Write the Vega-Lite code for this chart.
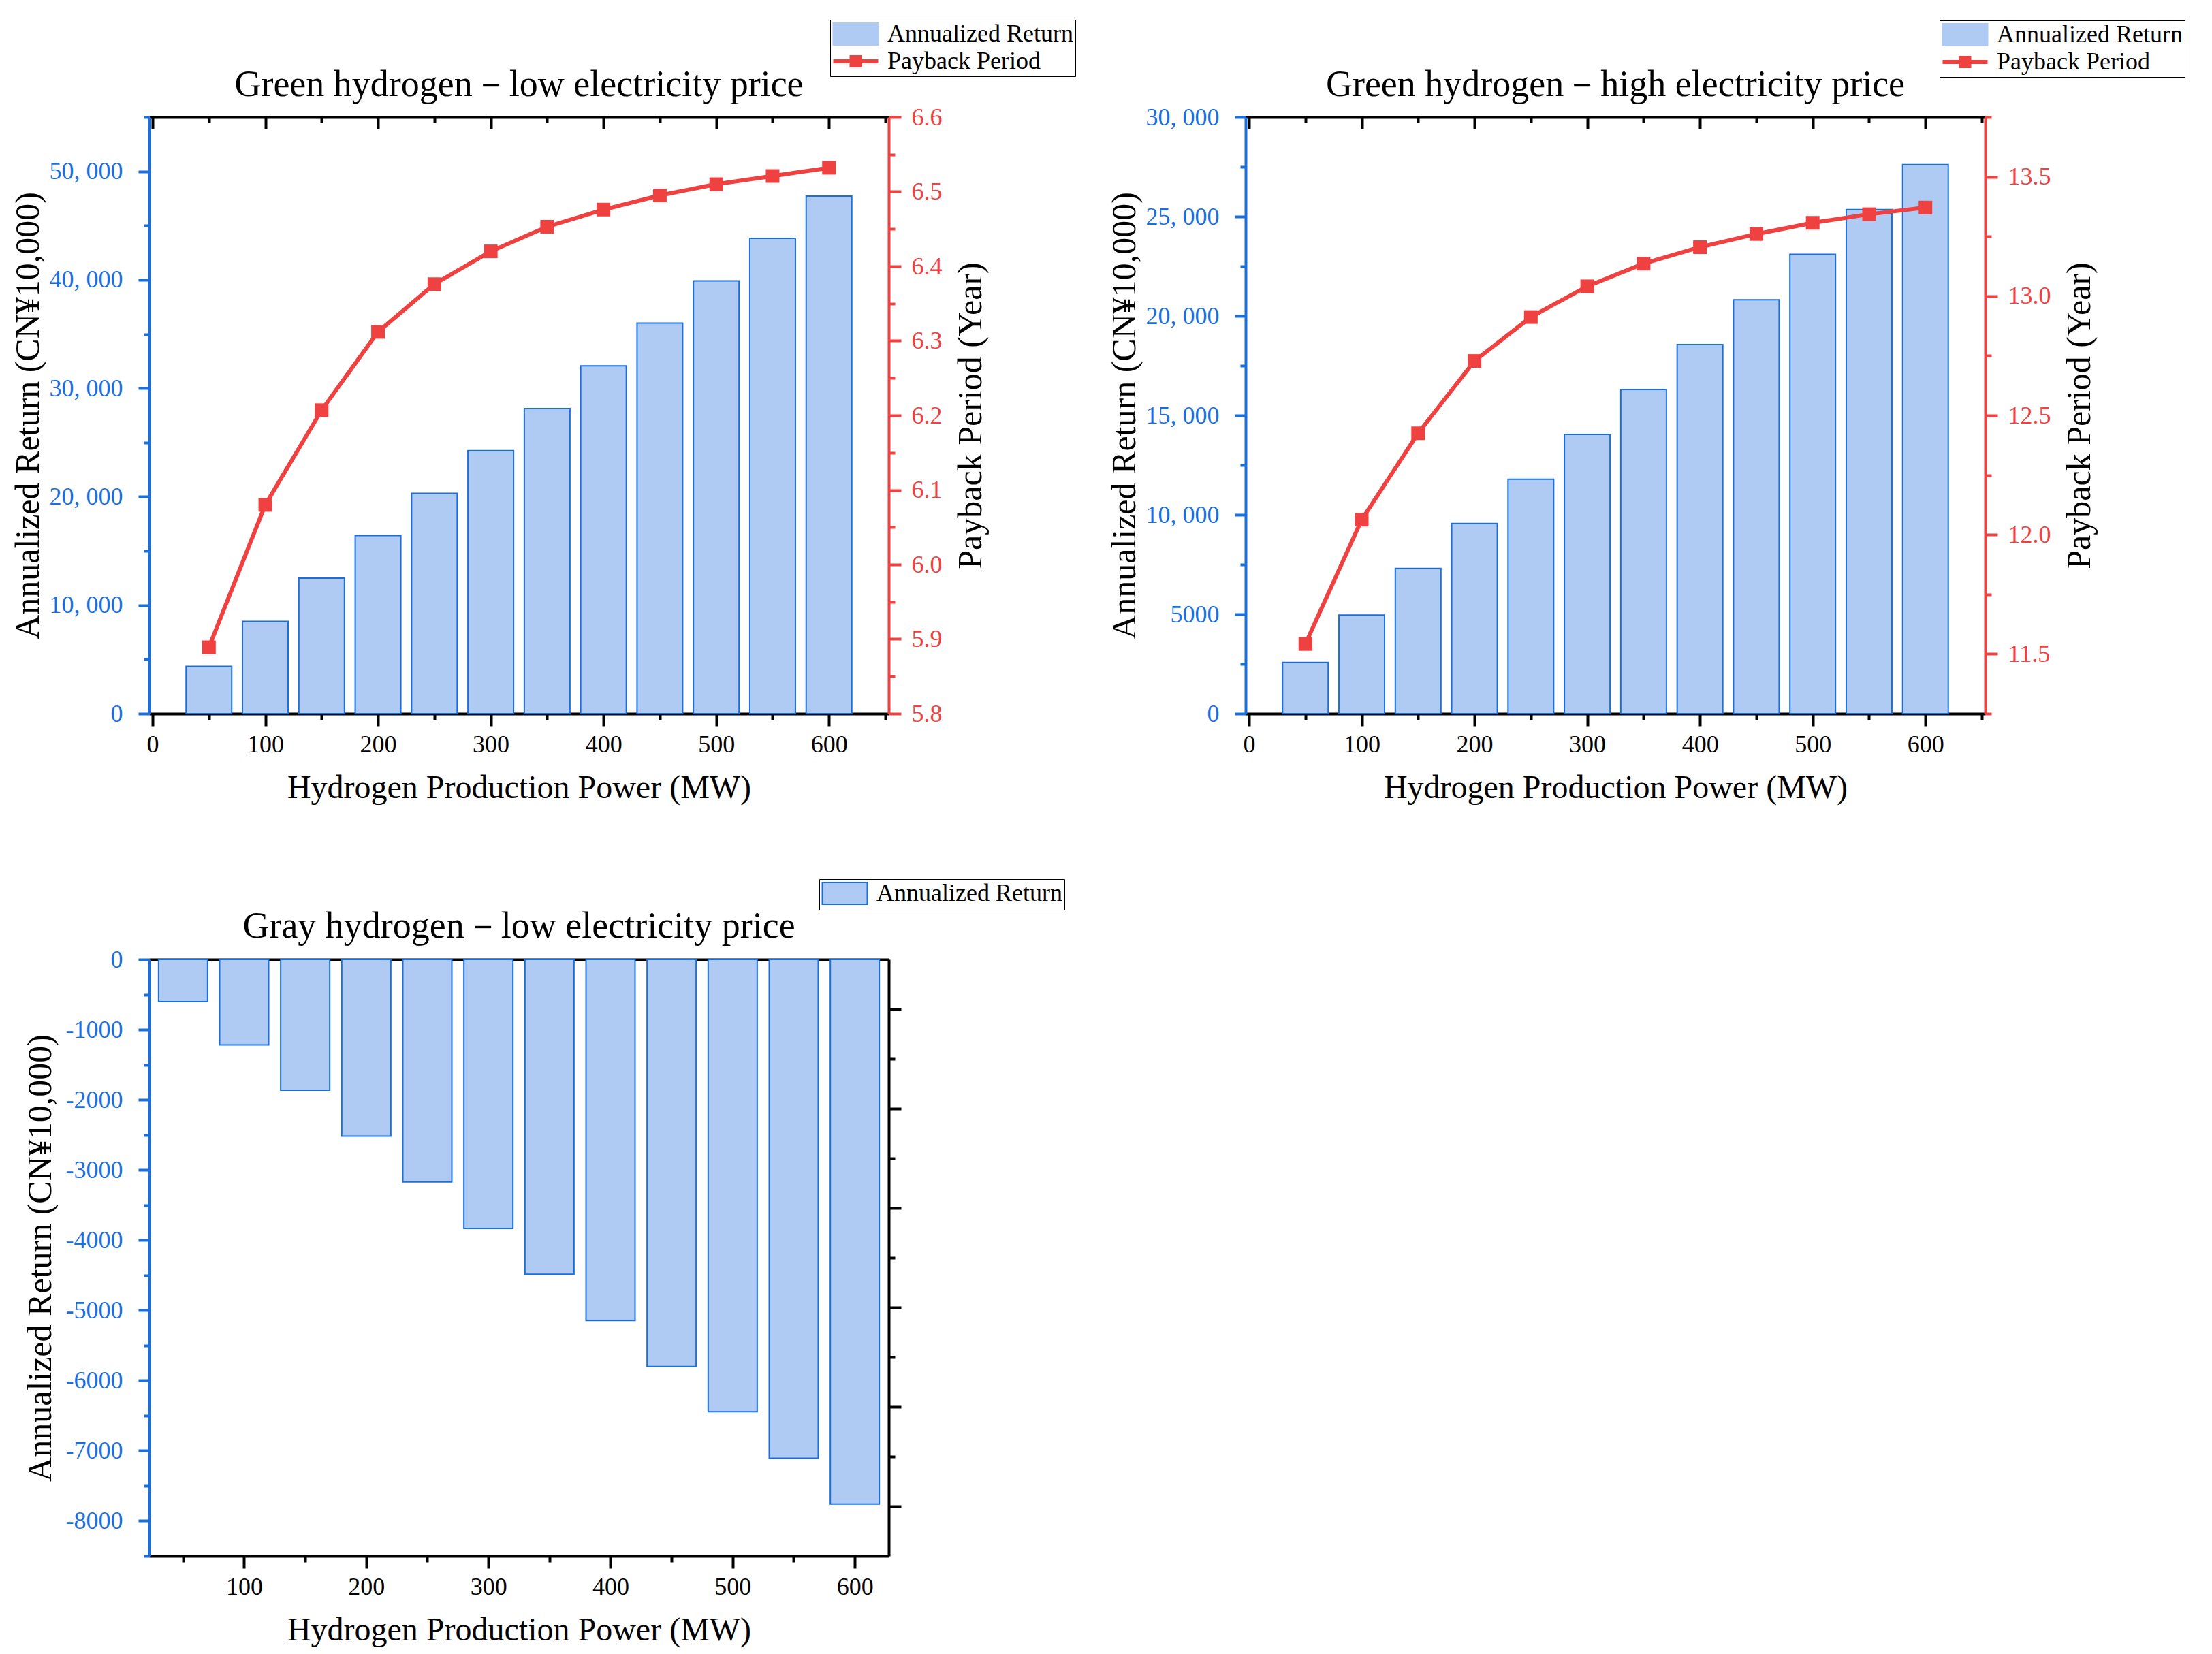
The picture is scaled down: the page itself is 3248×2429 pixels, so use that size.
{
  "$schema": "https://vega.github.io/schema/vega-lite/v6.json",
  "background": "white",
  "padding": {"left": 16, "top": 28, "right": 5, "bottom": 5},
  "bounds": "flush",
  "columns": 2,
  "spacing": {"row": 361, "column": 524},
  "resolve": {
    "scale": {"x": "independent", "y": "independent", "color": "independent"},
    "legend": {"color": "independent"}
  },
  "config": {
    "view": {"stroke": null},
    "font": "Liberation Serif",
    "axis": {
      "labelFont": "Liberation Serif",
      "labelFontSize": 36,
      "titleFont": "Liberation Serif",
      "titleFontSize": 48,
      "titleFontWeight": "normal",
      "titleColor": "black",
      "domainWidth": 4,
      "tickWidth": 4,
      "grid": false,
      "zindex": 1,
      "labelOverlap": false,
      "labelFlush": false,
      "labelBound": false
    },
    "axisY": {"titleFontSize": 50},
    "title": {"font": "Liberation Serif", "fontSize": 54, "fontWeight": "normal", "color": "black", "baseline": "alphabetic"},
    "legend": {
      "orient": "none", "title": null, "padding": 3, "strokeColor": "black",
      "symbolSize": 1089, "labelOffset": 45, "labelFont": "Liberation Serif",
      "labelFontSize": 36, "labelLimit": 600, "rowPadding": 0, "symbolOpacity": 1
    }
  },
  "datasets": {
    "lowGreen": [
      {"power": 50, "ret": 4370, "payback": 5.889},
      {"power": 100, "ret": 8500, "payback": 6.080},
      {"power": 150, "ret": 12490, "payback": 6.207},
      {"power": 200, "ret": 16420, "payback": 6.312},
      {"power": 250, "ret": 20310, "payback": 6.376},
      {"power": 300, "ret": 24250, "payback": 6.420},
      {"power": 350, "ret": 28130, "payback": 6.453},
      {"power": 400, "ret": 32070, "payback": 6.476},
      {"power": 450, "ret": 36000, "payback": 6.495},
      {"power": 500, "ret": 39900, "payback": 6.510},
      {"power": 550, "ret": 43830, "payback": 6.521},
      {"power": 600, "ret": 47720, "payback": 6.532}
    ],
    "highGreen": [
      {"power": 50, "ret": 2575, "payback": 11.542},
      {"power": 100, "ret": 4960, "payback": 12.063},
      {"power": 150, "ret": 7300, "payback": 12.425},
      {"power": 200, "ret": 9560, "payback": 12.728},
      {"power": 250, "ret": 11790, "payback": 12.912},
      {"power": 300, "ret": 14040, "payback": 13.041},
      {"power": 350, "ret": 16300, "payback": 13.136},
      {"power": 400, "ret": 18560, "payback": 13.205},
      {"power": 450, "ret": 20810, "payback": 13.260},
      {"power": 500, "ret": 23100, "payback": 13.307},
      {"power": 550, "ret": 25350, "payback": 13.343},
      {"power": 600, "ret": 27610, "payback": 13.371}
    ],
    "lowGray": [
      {"power": 50, "ret": -601},
      {"power": 100, "ret": -1217},
      {"power": 150, "ret": -1863},
      {"power": 200, "ret": -2517},
      {"power": 250, "ret": -3170},
      {"power": 300, "ret": -3832},
      {"power": 350, "ret": -4485},
      {"power": 400, "ret": -5146},
      {"power": 450, "ret": -5800},
      {"power": 500, "ret": -6446},
      {"power": 550, "ret": -7107},
      {"power": 600, "ret": -7761}
    ]
  },
  "concat": [
    {
      "title": {"text": "Green hydrogen－low electricity price", "offset": -123},
      "width": 1086,
      "height": 876,
      "data": {"name": "lowGreen"},
      "resolve": {"scale": {"y": "independent"}, "axis": {"x": "independent"}},
      "layer": [
        {
          "mark": {"type": "bar", "width": 67, "stroke": "#1a6fdf", "strokeWidth": 2},
          "encoding": {
            "x": {
              "field": "power", "type": "quantitative",
              "scale": {"domain": [0, 650], "nice": false},
              "axis": {
                "orient": "bottom", "title": "Hydrogen Production Power (MW)",
                "values": [0, 50, 100, 150, 200, 250, 300, 350, 400, 450, 500, 550, 600, 650],
                "labelExpr": "datum.value % 100 === 0 ? format(datum.value, 'd') : ''",
                "tickSize": {"condition": {"test": "datum.value % 100 === 0", "value": 18}, "value": 9},
                "domainColor": "black", "tickColor": "black", "labelColor": "black",
                "labelPadding": 10, "titlePadding": 22
              }
            },
            "y": {
              "field": "ret", "type": "quantitative",
              "scale": {"domain": [0, 55000], "nice": false, "zero": true},
              "axis": {
                "orient": "left", "title": "Annualized Return (CN¥10,000)",
                "values": [0, 5000, 10000, 15000, 20000, 25000, 30000, 35000, 40000, 45000, 50000, 55000],
                "labelExpr": "datum.value % 10000 === 0 ? (datum.value >= 10000 ? replace(format(datum.value, ','), ',', ', ') : format(datum.value, 'd')) : ''",
                "tickSize": {"condition": {"test": "datum.value % 10000 === 0", "value": 16}, "value": 8},
                "domainColor": "#1a6fdf", "tickColor": "#1a6fdf", "labelColor": "#1a6fdf",
                "labelPadding": 23, "titlePadding": 6
              }
            },
            "color": {
              "datum": "Annualized Return", "type": "nominal",
              "scale": {"domain": ["Annualized Return", "Payback Period"], "range": ["#afcbf3", "#f04141"]},
              "legend": {
                "legendX": 1000, "legendY": -143,
                "symbolType": {"expr": "datum.value === 'Annualized Return' ? 'M-1,-0.97H3V0.97H-1Z' : 'M-1,0H3M0.636,-0.364H1.364V0.364H0.636Z'"},
                "symbolStrokeColor": {"expr": "datum.value === 'Annualized Return' ? '#1a6fdf' : '#f04141'"},
                "symbolFillColor": {"expr": "datum.value === 'Annualized Return' ? '#afcbf3' : '#f04141'"},
                "symbolStrokeWidth": {"expr": "datum.value === 'Annualized Return' ? 2 : 6"}
              }
            }
          }
        },
        {
          "mark": {"type": "line", "strokeWidth": 6, "point": {"shape": "square", "size": 400, "filled": true, "opacity": 1}},
          "encoding": {
            "x": {
              "field": "power", "type": "quantitative",
              "scale": {"domain": [0, 650], "nice": false},
              "axis": {
                "orient": "top", "title": null, "labels": false,
                "values": [0, 50, 100, 150, 200, 250, 300, 350, 400, 450, 500, 550, 600, 650],
                "tickSize": {"condition": {"test": "datum.value % 100 === 0", "value": -17}, "value": -8},
                "domainColor": "black", "tickColor": "black"
              }
            },
            "y": {
              "field": "payback", "type": "quantitative",
              "scale": {"domain": [5.8, 6.6], "nice": false, "zero": false},
              "axis": {
                "orient": "right", "title": "Payback Period (Year)",
                "values": [5.8, 5.85, 5.9, 5.95, 6, 6.05, 6.1, 6.15, 6.2, 6.25, 6.3, 6.35, 6.4, 6.45, 6.5, 6.55, 6.6],
                "labelExpr": "abs(datum.value * 10 - round(datum.value * 10)) < 0.001 ? format(datum.value, '.1f') : ''",
                "tickSize": {"condition": {"test": "abs(datum.value * 10 - round(datum.value * 10)) < 0.001", "value": 18}, "value": 9},
                "domainColor": "#f04141", "tickColor": "#f04141", "labelColor": "#f04141",
                "labelPadding": 15, "titlePadding": 17, "titleAngle": 270, "titleBaseline": "top"
              }
            },
            "color": {"datum": "Payback Period", "type": "nominal"}
          }
        }
      ]
    },
    {
      "title": {"text": "Green hydrogen－high electricity price", "offset": -122},
      "width": 1086,
      "height": 876,
      "data": {"name": "highGreen"},
      "resolve": {"scale": {"y": "independent"}, "axis": {"x": "independent"}},
      "layer": [
        {
          "mark": {"type": "bar", "width": 67, "stroke": "#1a6fdf", "strokeWidth": 2},
          "encoding": {
            "x": {
              "field": "power", "type": "quantitative",
              "scale": {"domain": [0, 650], "nice": false},
              "axis": {
                "orient": "bottom", "title": "Hydrogen Production Power (MW)",
                "values": [0, 50, 100, 150, 200, 250, 300, 350, 400, 450, 500, 550, 600, 650],
                "labelExpr": "datum.value % 100 === 0 ? format(datum.value, 'd') : ''",
                "tickSize": {"condition": {"test": "datum.value % 100 === 0", "value": 18}, "value": 9},
                "domainColor": "black", "tickColor": "black", "labelColor": "black",
                "labelPadding": 10, "titlePadding": 22
              }
            },
            "y": {
              "field": "ret", "type": "quantitative",
              "scale": {"domain": [0, 30000], "nice": false, "zero": true},
              "axis": {
                "orient": "left", "title": "Annualized Return (CN¥10,000)",
                "values": [0, 2500, 5000, 7500, 10000, 12500, 15000, 17500, 20000, 22500, 25000, 27500, 30000],
                "labelExpr": "datum.value % 5000 === 0 ? (datum.value >= 10000 ? replace(format(datum.value, ','), ',', ', ') : format(datum.value, 'd')) : ''",
                "tickSize": {"condition": {"test": "datum.value % 5000 === 0", "value": 16}, "value": 8},
                "domainColor": "#1a6fdf", "tickColor": "#1a6fdf", "labelColor": "#1a6fdf",
                "labelPadding": 23, "titlePadding": 6
              }
            },
            "color": {
              "datum": "Annualized Return", "type": "nominal",
              "scale": {"domain": ["Annualized Return", "Payback Period"], "range": ["#afcbf3", "#f04141"]},
              "legend": {
                "legendX": 1019, "legendY": -142,
                "symbolType": {"expr": "datum.value === 'Annualized Return' ? 'M-1,-0.97H3V0.97H-1Z' : 'M-1,0H3M0.636,-0.364H1.364V0.364H0.636Z'"},
                "symbolStrokeColor": {"expr": "datum.value === 'Annualized Return' ? '#1a6fdf' : '#f04141'"},
                "symbolFillColor": {"expr": "datum.value === 'Annualized Return' ? '#afcbf3' : '#f04141'"},
                "symbolStrokeWidth": {"expr": "datum.value === 'Annualized Return' ? 2 : 6"}
              }
            }
          }
        },
        {
          "mark": {"type": "line", "strokeWidth": 6, "point": {"shape": "square", "size": 400, "filled": true, "opacity": 1}},
          "encoding": {
            "x": {
              "field": "power", "type": "quantitative",
              "scale": {"domain": [0, 650], "nice": false},
              "axis": {
                "orient": "top", "title": null, "labels": false,
                "values": [0, 50, 100, 150, 200, 250, 300, 350, 400, 450, 500, 550, 600, 650],
                "tickSize": {"condition": {"test": "datum.value % 100 === 0", "value": -17}, "value": -8},
                "domainColor": "black", "tickColor": "black"
              }
            },
            "y": {
              "field": "payback", "type": "quantitative",
              "scale": {"domain": [11.25, 13.75], "nice": false, "zero": false},
              "axis": {
                "orient": "right", "title": "Payback Period (Year)",
                "values": [11.25, 11.5, 11.75, 12, 12.25, 12.5, 12.75, 13, 13.25, 13.5, 13.75],
                "labelExpr": "abs(datum.value * 2 - round(datum.value * 2)) < 0.001 ? format(datum.value, '.1f') : ''",
                "tickSize": {"condition": {"test": "abs(datum.value * 2 - round(datum.value * 2)) < 0.001", "value": 18}, "value": 9},
                "domainColor": "#f04141", "tickColor": "#f04141", "labelColor": "#f04141",
                "labelPadding": 15, "titlePadding": 17, "titleAngle": 270, "titleBaseline": "top"
              }
            },
            "color": {"datum": "Payback Period", "type": "nominal"}
          }
        }
      ]
    },
    {
      "title": {"text": "Gray hydrogen－low electricity price", "offset": -97},
      "width": 1086,
      "height": 876,
      "data": {"name": "lowGray"},
      "resolve": {"axis": {"x": "independent", "y": "independent"}},
      "layer": [
        {
          "mark": {"type": "bar", "width": 72, "stroke": "#1a6fdf", "strokeWidth": 2},
          "encoding": {
            "x": {
              "field": "power", "type": "quantitative",
              "scale": {"domain": [25, 625], "nice": false, "zero": false},
              "axis": {
                "orient": "bottom", "title": "Hydrogen Production Power (MW)",
                "values": [50, 100, 150, 200, 250, 300, 350, 400, 450, 500, 550, 600],
                "labelExpr": "datum.value % 100 === 0 ? format(datum.value, 'd') : ''",
                "tickSize": {"condition": {"test": "datum.value % 100 === 0", "value": 18}, "value": 9},
                "domainColor": "black", "tickColor": "black", "labelColor": "black",
                "labelPadding": 10, "titlePadding": 22
              }
            },
            "y": {
              "field": "ret", "type": "quantitative",
              "scale": {"domain": [-8500, 0], "nice": false},
              "axis": {
                "orient": "left", "title": "Annualized Return (CN¥10,000)",
                "values": [0, -500, -1000, -1500, -2000, -2500, -3000, -3500, -4000, -4500, -5000, -5500, -6000, -6500, -7000, -7500, -8000, -8500],
                "labelExpr": "datum.value % 1000 === 0 ? '' + datum.value : ''",
                "tickSize": {"condition": {"test": "datum.value % 1000 === 0", "value": 16}, "value": 8},
                "domainColor": "#1a6fdf", "tickColor": "#1a6fdf", "labelColor": "#1a6fdf",
                "labelPadding": 23, "titlePadding": 12
              }
            },
            "color": {
              "datum": "Annualized Return", "type": "nominal",
              "scale": {"domain": ["Annualized Return"], "range": ["#afcbf3"]},
              "legend": {
                "legendX": 984, "legendY": -118,
                "symbolType": "M-1,-0.97H3V0.97H-1Z",
                "symbolStrokeColor": "#1a6fdf",
                "symbolFillColor": "#afcbf3",
                "symbolStrokeWidth": 2
              }
            }
          }
        },
        {
          "mark": {"type": "bar", "width": 72, "opacity": 0},
          "encoding": {
            "x": {
              "field": "power", "type": "quantitative",
              "axis": {
                "orient": "top", "title": null, "labels": false,
                "values": [50, 100, 150, 200, 250, 300, 350, 400, 450, 500, 550, 600],
                "tickSize": {"condition": {"test": "datum.value % 100 === 0", "value": -17}, "value": -8},
                "domainColor": "black", "tickColor": "black"
              }
            },
            "y": {
              "field": "ret", "type": "quantitative",
              "axis": {
                "orient": "right", "title": null, "labels": false,
                "values": [-708.333, -1416.667, -2125, -2833.333, -3541.667, -4250, -4958.333, -5666.667, -6375, -7083.333, -7791.667],
                "tickSize": {"condition": {"test": "round(-datum.value / 708.3333) % 2 === 1", "value": 18}, "value": 9},
                "domainColor": "black", "tickColor": "black"
              }
            }
          }
        }
      ]
    }
  ]
}
